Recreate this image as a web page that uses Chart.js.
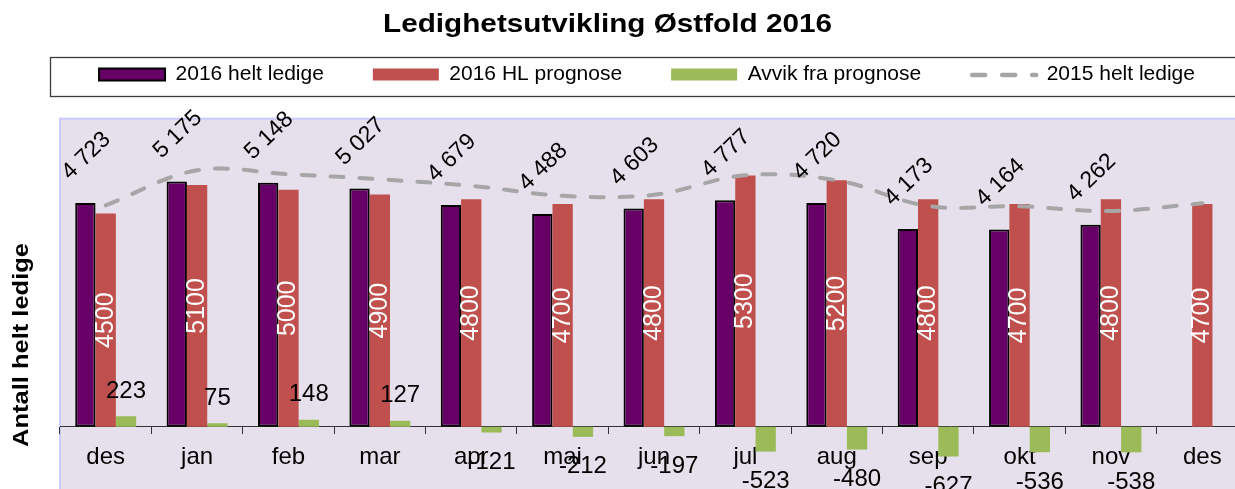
<!DOCTYPE html>
<html>
<head>
<meta charset="utf-8">
<script src="https://cdn.jsdelivr.net/npm/chart.js@4.4.1/dist/chart.umd.min.js"></script>
<style>
html,body{margin:0;padding:0;overflow:hidden;background:#fff;width:1235px;height:489px}
canvas{display:block}
</style>
</head>
<body>
<canvas id="c" width="1250" height="569" style="width:1250px;height:569px"></canvas>
<script>
// ---- data ----
const categories   = ['des','jan','feb','mar','apr','mai','jun','jul','aug','sep','okt','nov','des'];
const helt2016     = [4723, 5175, 5148, 5027, 4679, 4488, 4603, 4777, 4720, 4173, 4164, 4262, null];
const prognose2016 = [4500, 5100, 5000, 4900, 4800, 4700, 4800, 5300, 5200, 4800, 4700, 4800, 4700];
const avvik        = [223, 75, 148, 127, -121, -212, -197, -523, -480, -627, -536, -538, null];
const helt2015     = [4672, 5412, 5328, 5222, 5085, 4873, 4894, 5307, 5201, 4657, 4651, 4552, 4715];
const seriesNames  = ['2016 helt ledige', '2016 HL prognose', 'Avvik fra prognose', '2015 helt ledige'];
const chartTitle   = 'Ledighetsutvikling Østfold 2016';
const yAxisTitle   = 'Antall helt ledige';
const yMin = -3000, yMax = 7000, plotTopValue = 6500;

const FONT = "'Liberation Sans', Arial, Helvetica, sans-serif";
const COLORS = { purple: '#660066', red: '#C0504D', green: '#9BBB59', grey: '#A6A6A6' };

const fmtSpace = v => String(v).replace(/\B(?=(\d{3})+(?!\d))/g, ' ');

function drawText(ctx, text, x, y, opts) {
  ctx.save();
  ctx.translate(x, y);
  if (opts.rotate) ctx.rotate(opts.rotate * Math.PI / 180);
  ctx.font = opts.font;
  ctx.fillStyle = opts.color || '#000';
  ctx.textAlign = opts.align || 'center';
  ctx.textBaseline = opts.baseline || 'middle';
  if (opts.width) {
    const w = ctx.measureText(text).width;
    ctx.scale(opts.width / w, 1);
  }
  ctx.fillText(text, 0, 0);
  ctx.restore();
}

const decor = {
  id: 'decor',
  beforeDraw(chart) {
    const ctx = chart.ctx, a = chart.chartArea, ys = chart.scales.y;
    ctx.save();
    ctx.fillStyle = '#fff';
    ctx.fillRect(0, 0, chart.width, chart.height);
    const top = ys.getPixelForValue(plotTopValue);
    ctx.fillStyle = '#E5E0EC';
    ctx.fillRect(a.left, top, a.right - a.left, a.bottom - top);
    ctx.strokeStyle = '#CACAFB';
    ctx.lineWidth = 2;
    ctx.strokeRect(a.left, top, a.right - a.left, a.bottom - top);
    // legend frame (continues past the right edge)
    ctx.strokeStyle = '#3a3a3a';
    ctx.lineWidth = 1.3;
    ctx.strokeRect(50.5, 57.5, 1260, 39);
    ctx.restore();
  },
  afterDatasetsDraw(chart) {
    const ctx = chart.ctx;
    // 2016 helt ledige labels
    chart.getDatasetMeta(0).data.forEach((el, i) => {
      const v = helt2016[i];
      if (v == null) return;
      drawText(ctx, fmtSpace(v), el.x + 1, el.y - 47, { font: `23px ${FONT}`, rotate: -44 });
    });
    // prognose labels (inside, vertical, white)
    chart.getDatasetMeta(1).data.forEach((el, i) => {
      const v = prognose2016[i];
      if (v == null) return;
      drawText(ctx, String(v), el.x, (el.y + el.base) / 2, { font: `25px ${FONT}`, rotate: -90, color: '#fff' });
    });
    // avvik labels
    chart.getDatasetMeta(2).data.forEach((el, i) => {
      const v = avvik[i];
      if (v == null) return;
      const y = v >= 0 ? el.y - 25 : el.y + 30;
      drawText(ctx, String(v), el.x, y, { font: `24px ${FONT}` });
    });
  },
  afterDraw(chart) {
    const ctx = chart.ctx;
    // dashed legend symbol for the line series
    const items = chart.legend.legendItems;
    const idx = items.findIndex(it => it.datasetIndex === 3);
    const hb = chart.legend.legendHitBoxes[idx];
    if (hb) {
      ctx.save();
      ctx.strokeStyle = COLORS.grey;
      ctx.lineWidth = 4.5;
      ctx.lineCap = 'round';
      ctx.setLineDash([13, 17]);
      const cy = hb.top + hb.height / 2 + 0.5;
      ctx.beginPath();
      ctx.moveTo(hb.left + 2, cy);
      ctx.lineTo(hb.left + 66, cy);
      ctx.stroke();
      ctx.restore();
    }
    // chart title
    drawText(ctx, chartTitle, 607.5, 31.5, { font: `bold 26px ${FONT}`, baseline: 'alphabetic', width: 449 });
    // y axis title
    drawText(ctx, yAxisTitle, 28, 345, { font: `bold 22px ${FONT}`, baseline: 'alphabetic', rotate: -90, width: 204 });
  }
};

new Chart(document.getElementById('c'), {
  data: {
    labels: categories,
    datasets: [
      { type: 'bar', label: seriesNames[0], data: helt2016, backgroundColor: COLORS.purple,
        borderColor: '#000', borderWidth: 2, borderSkipped: false, order: 1 },
      { type: 'bar', label: seriesNames[1], data: prognose2016, backgroundColor: COLORS.red,
        borderWidth: 0, order: 1 },
      { type: 'bar', label: seriesNames[2], data: avvik, backgroundColor: COLORS.green,
        borderWidth: 0, order: 1 },
      { type: 'line', label: seriesNames[3], data: helt2015, borderColor: COLORS.grey,
        backgroundColor: COLORS.grey, borderWidth: 4, borderDash: [13, 16], borderCapStyle: 'round',
        pointRadius: 0, tension: 0.35, fill: false, order: 0 }
    ]
  },
  options: {
    responsive: false,
    animation: false,
    devicePixelRatio: 1,
    layout: { padding: { left: 46, right: 2, top: 15, bottom: 0 } },
    datasets: { bar: { categoryPercentage: 0.667, barPercentage: 1.0 } },
    scales: {
      x: {
        type: 'category',
        position: { y: 0 },
        offset: true,
        grid: { display: true, drawOnChartArea: false, drawTicks: true, tickLength: 7, color: '#333', offset: true },
        border: { display: true, color: '#333', width: 1 },
        ticks: { color: '#000', font: { size: 24, family: FONT }, padding: 9, maxRotation: 0, autoSkip: false }
      },
      y: {
        type: 'linear',
        min: yMin, max: yMax,
        display: true,
        grid: { display: false },
        border: { display: false },
        ticks: { display: false },
        afterFit(scale) { scale.width = 14; }
      }
    },
    plugins: {
      title: { display: false },
      tooltip: { enabled: false },
      legend: {
        display: true,
        position: 'top',
        align: 'center',
        labels: {
          boxWidth: 66, boxHeight: 12, padding: 49, color: '#000',
          font: { size: 21, family: FONT },
          sort: (a, b) => a.datasetIndex - b.datasetIndex,
          generateLabels(chart) {
            const items = Chart.defaults.plugins.legend.labels.generateLabels(chart);
            items.forEach(it => {
              if (it.datasetIndex === 3) {
                it.fillStyle = 'rgba(0,0,0,0)';
                it.strokeStyle = 'rgba(0,0,0,0)';
                it.lineWidth = 0;
                it.lineDash = [];
              }
            });
            return items;
          }
        }
      }
    }
  },
  plugins: [decor]
});
</script>
</body>
</html>
